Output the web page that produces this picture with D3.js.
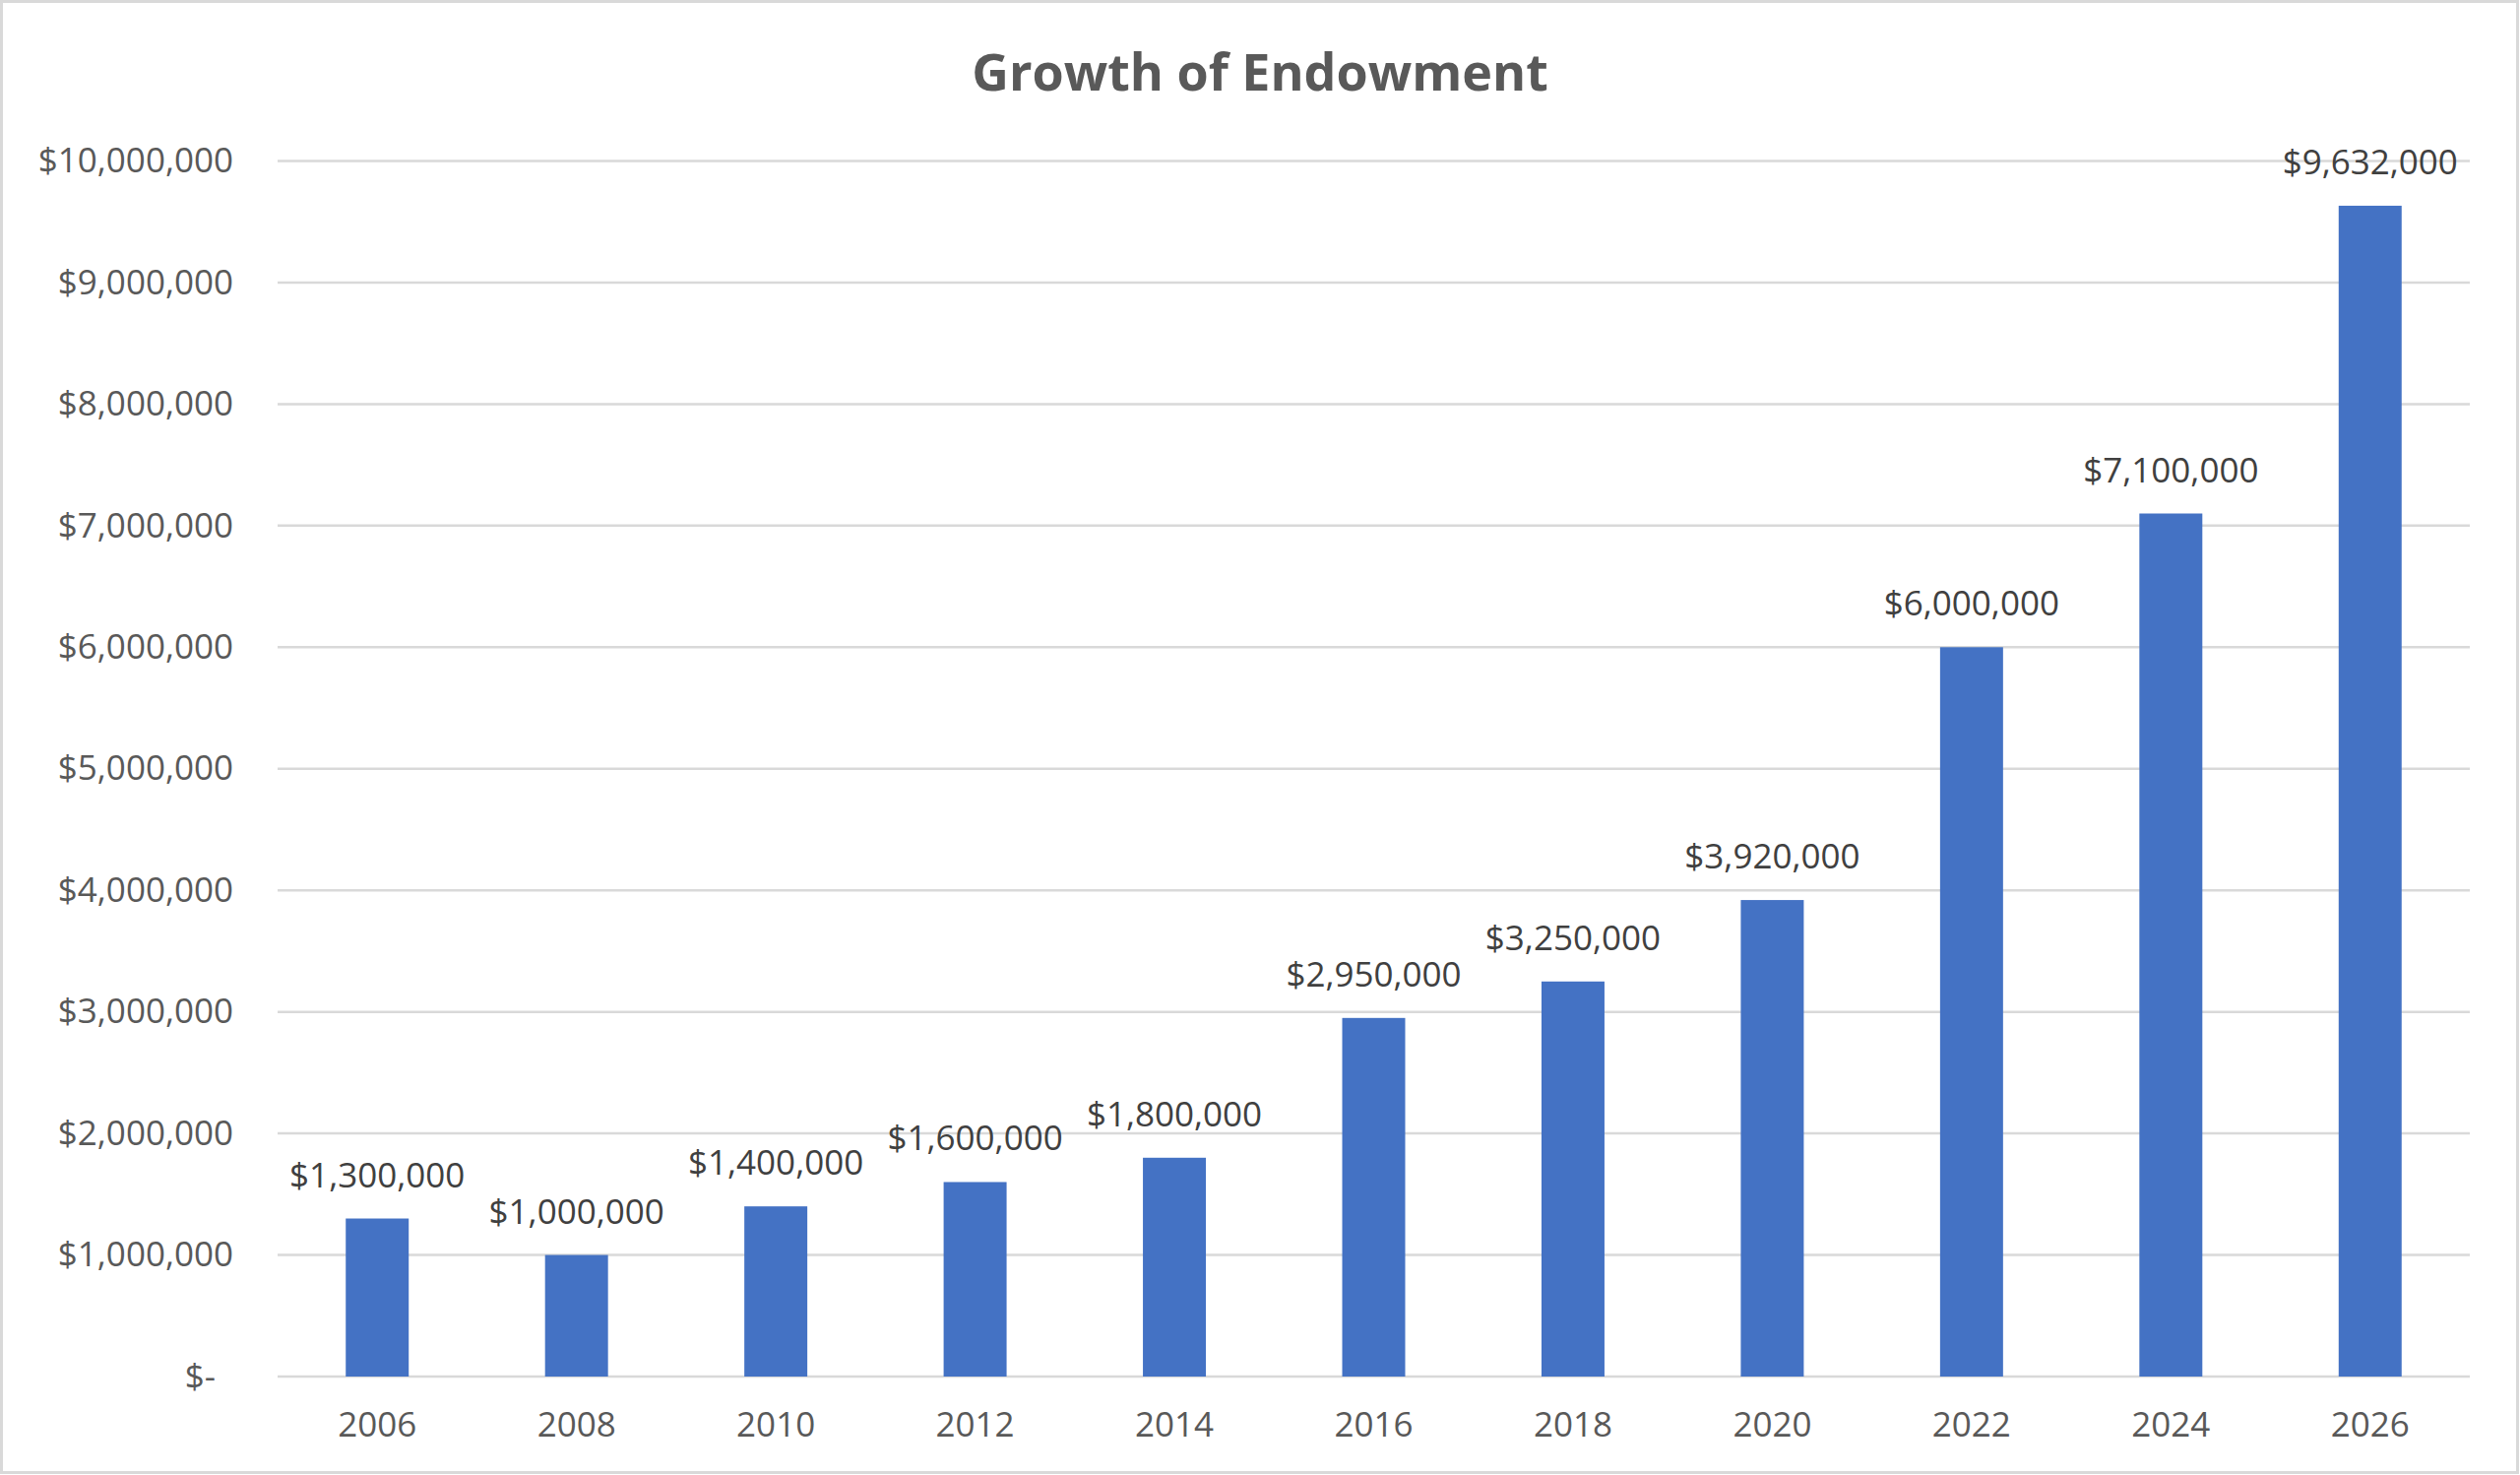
<!DOCTYPE html>
<html lang="en">
<head>
    <meta charset="UTF-8">
    <title>Growth of Endowment</title>
    <script src="https://cdn.jsdelivr.net/npm/d3@7"></script>
    <style>
        body { margin: 0; background: #fff; }
    </style>
</head>
<body>
<script>
    // data
    const years = ['2006', '2008', '2010', '2012', '2014', '2016', '2018', '2020', '2022', '2024', '2026'];
    const endowment = [1300000, 1000000, 1400000, 1600000, 1800000, 2950000, 3250000, 3920000, 6000000, 7100000, 9632000];
    const yTicks = [0, 1000000, 2000000, 3000000, 4000000, 5000000, 6000000, 7000000, 8000000, 9000000, 10000000];
    const title = 'Growth of Endowment';

    const width = 2560, height = 1498;
    const font = '"Open Sans", Calibri, sans-serif';
    const money = d3.format('$,');

    const svg = d3.select('body').append('svg')
        .attr('width', width)
        .attr('height', height)
        .style('font-family', font);

    // chart frame
    svg.append('rect')
        .attr('x', 1.5).attr('y', 1.5)
        .attr('width', width - 4).attr('height', height - 4)
        .attr('fill', '#fff')
        .attr('stroke', '#d9d9d9')
        .attr('stroke-width', 3);

    const x = d3.scaleBand()
        .domain(years)
        .range([282, 2509])
        .paddingInner(0.684)
        .paddingOuter(0.342);

    const y = d3.scaleLinear()
        .domain([0, 10000000])
        .range([1398, 163.5]);

    // gridlines
    svg.append('g')
        .attr('stroke', '#d9d9d9')
        .attr('stroke-width', 2.5)
        .selectAll('line')
        .data(yTicks)
        .enter().append('line')
        .attr('x1', 282).attr('x2', 2509)
        .attr('y1', d => y(d)).attr('y2', d => y(d));

    // y axis labels
    const yAxis = svg.append('g')
        .attr('transform', 'translate(237,0)')
        .call(d3.axisLeft(y).tickValues(yTicks).tickSize(0).tickPadding(0)
            .tickFormat(d => d === 0 ? '$-' : money(d)));
    yAxis.select('.domain').remove();
    yAxis.selectAll('text')
        .attr('font-family', font)
        .attr('font-size', 35)
        .attr('fill', '#595959')
        .attr('dx', d => d === 0 ? -18 : 0);

    // x axis labels
    const xAxis = svg.append('g')
        .attr('transform', 'translate(0,1398)')
        .call(d3.axisBottom(x).tickSize(0).tickPadding(0));
    xAxis.select('.domain').remove();
    xAxis.selectAll('text')
        .attr('font-family', font)
        .attr('font-size', 35)
        .attr('fill', '#595959')
        .attr('dy', null)
        .attr('y', 61);

    // bars
    svg.append('g')
        .attr('fill', '#4472c4')
        .selectAll('rect')
        .data(endowment)
        .enter().append('rect')
        .attr('x', (d, i) => x(years[i]))
        .attr('width', x.bandwidth())
        .attr('y', d => y(d))
        .attr('height', d => y(0) - y(d));

    // data labels
    svg.append('g')
        .attr('font-size', 35)
        .attr('fill', '#404040')
        .attr('text-anchor', 'middle')
        .selectAll('text')
        .data(endowment)
        .enter().append('text')
        .attr('x', (d, i) => x(years[i]) + x.bandwidth() / 2)
        .attr('y', d => y(d) - 32)
        .text(d => money(d));

    svg.append('text')
        .attr('x', 1280)
        .attr('y', 92)
        .attr('text-anchor', 'middle')
        .attr('font-size', 52)
        .attr('font-weight', 'bold')
        .attr('fill', '#595959')
        .text(title);
</script>
</body>
</html>
